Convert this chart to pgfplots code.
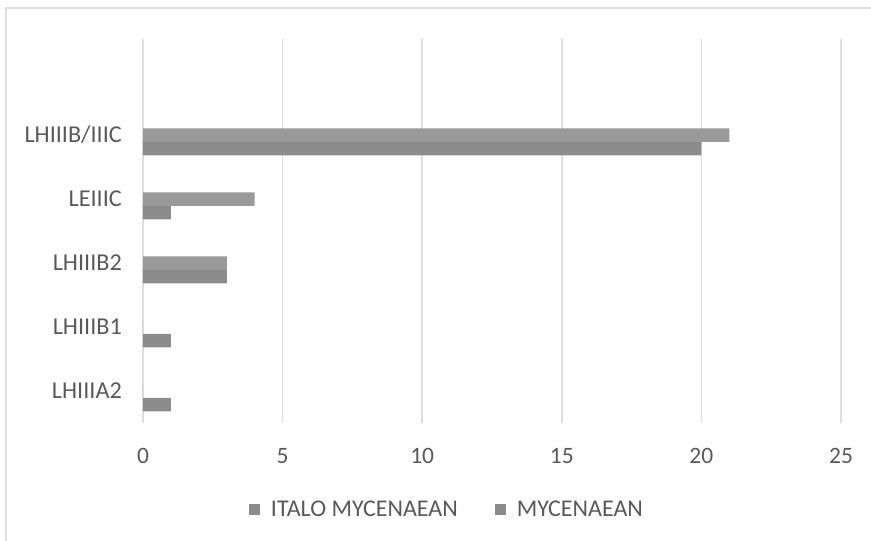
\documentclass[border=0pt]{standalone}
\usepackage{pgfplots}
\pgfplotsset{compat=1.18}
\usepackage{fontspec}
\setmainfont{Carlito}
\definecolor{txt}{HTML}{595959}
\definecolor{gridc}{HTML}{DEDEDE}
\definecolor{myc}{HTML}{9A9A9A}
\definecolor{ita}{HTML}{8C8C8C}
\begin{document}
\begin{tikzpicture}[x=1pt,y=1pt]
\useasboundingbox (0,0) rectangle (871,-541);
\draw[color=gridc, line width=1.5pt] (6,-541) -- (6,-8) -- (871,-8);
\begin{axis}[
  at={(143pt,-423pt)}, anchor=south west,
  scale only axis, width=698pt, height=384pt,
  xmin=0, xmax=25, ymin=-0.5, ymax=5.5,
  xbar, bar width=13.5pt,
  axis line style={draw=none},
  xmajorgrids, grid style={gridc, line width=1.5pt},
  major tick length=0pt,
  xtick={0,5,10,15,20,25},
  ytick={0,1,2,3,4},
  yticklabels={LHIIIA2,LHIIIB1,LHIIIB2,LEIIIC,LHIIIB/IIIC},
  /pgf/number format/assume math mode=true,
  tick label style={font=\fontsize{23.5}{27}\selectfont, text=txt, inner sep=0pt},
  yticklabel style={font=\fontsize{24.2}{28}\selectfont, xshift=-21pt},
  xticklabel style={yshift=-25pt},
  legend columns=2,
  legend style={draw=none, fill=none, at={(0.434,-0.224)}, anchor=center,
    font=\fontsize{24}{28}\selectfont, text=txt, inner sep=0pt,
    nodes={inner sep=0pt},
    /tikz/every odd column/.append style={column sep=11pt},
    /tikz/every even column/.append style={column sep=37pt}},
]
\addplot[fill=ita, draw=none, bar shift=-13.5pt,
  legend image code/.code={\fill[ita] (0pt,-5.5pt) rectangle (11pt,5.5pt);}]
  coordinates {(1,0) (1,1) (3,2) (1,3) (20,4)};
\addlegendentry{ITALO MYCENAEAN}
\addplot[fill=myc, draw=none, bar shift=0pt,
  legend image code/.code={\fill[ita] (0pt,-5.5pt) rectangle (11pt,5.5pt);}]
  coordinates {(0,0) (0,1) (3,2) (4,3) (21,4)};
\addlegendentry{MYCENAEAN}
\end{axis}
\end{tikzpicture}
\end{document}
